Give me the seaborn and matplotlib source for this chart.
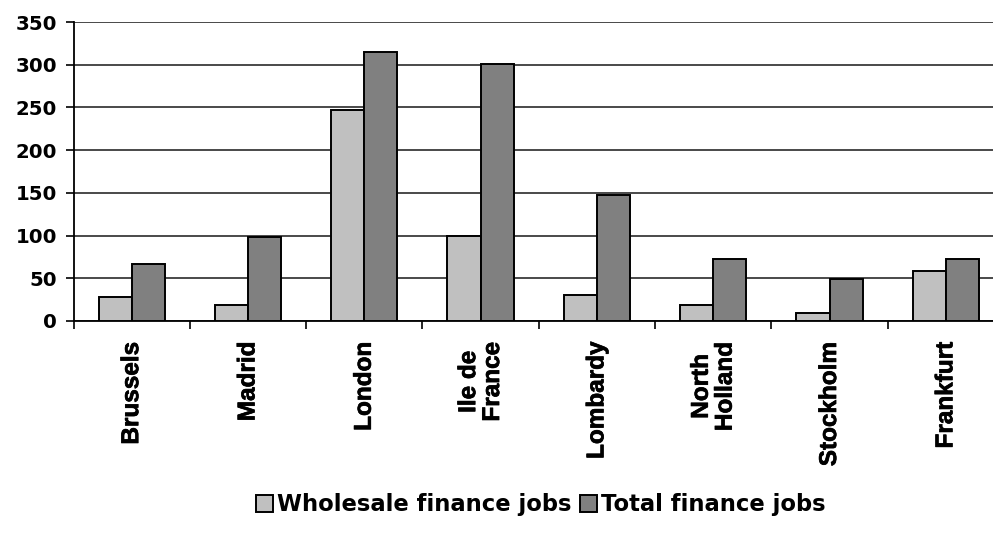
import matplotlib
matplotlib.use("Agg")
import matplotlib.pyplot as plt
import matplotlib.patheffects as pe
import seaborn as sns
import pandas as pd

regions = ["Brussels", "Madrid", "London", "Ile de\nFrance", "Lombardy",
           "North\nHolland", "Stockholm", "Frankfurt"]
wholesale = [28, 19, 247, 100, 30, 19, 9, 58]
total = [67, 98, 315, 301, 147, 72, 49, 72]
series = ["Wholesale finance jobs", "Total finance jobs"]
colors = ["#C0C0C0", "#808080"]

df = pd.DataFrame({
    "region": regions * 2,
    "value": wholesale + total,
    "series": [series[0]] * len(regions) + [series[1]] * len(regions),
})

sns.set_style("white")
plt.rcParams["font.family"] = ["DejaVu Sans"]
plt.rcParams["font.weight"] = "bold"
plt.rcParams["text.color"] = "black"
plt.rcParams["xtick.color"] = "black"
plt.rcParams["ytick.color"] = "black"

fig = plt.figure(figsize=(9.93, 5.40), dpi=100)
ax = fig.add_axes([73.5 / 993, 1 - 321 / 540, 930.5 / 993, 299 / 540])

sns.barplot(data=df, x="region", y="value", hue="series", palette=colors,
            width=0.57, edgecolor="black", linewidth=1.4, ax=ax, zorder=3,
            saturation=1)

ax.set_ylim(0, 350)
ax.set_xlim(-0.5, len(regions) - 0.5)
ax.set_yticks(range(0, 351, 50))
ax.yaxis.grid(True, color="#2a2a2a", linewidth=1.2, zorder=0)
ax.set_axisbelow(True)
for s in ["top", "right"]:
    ax.spines[s].set_visible(False)
for s in ["left", "bottom"]:
    ax.spines[s].set_color("black")
    ax.spines[s].set_linewidth(1.3)

ax.set_xlabel("")
ax.set_ylabel("")
ax.tick_params(axis="y", which="major", left=True, length=6, width=1.2,
               direction="out", labelsize=14.2, pad=6, color="black",
               labelcolor="black")
for lab in ax.get_yticklabels():
    lab.set_fontweight("bold")
    lab.set_family("DejaVu Sans")

# x ticks between categories, labels at centers
ax.set_xticks([i - 0.5 for i in range(len(regions) + 1)], minor=False)
ax.set_xticklabels([])
ax.set_xticks(range(len(regions)), minor=True)
ax.set_xticklabels(regions, minor=True, rotation=90, fontsize=17.5,
                   fontweight="bold", va="top", ha="center",
                   multialignment="center", color="black",
                   family=["Liberation Sans", "DejaVu Sans"],
                   linespacing=1.05)
for lab in ax.get_xticklabels(minor=True):
    lab.set_path_effects([pe.withStroke(linewidth=0.5, foreground="black")])
ax.tick_params(axis="x", which="major", bottom=True, length=6, width=1.2,
               direction="out", color="black")
ax.tick_params(axis="x", which="minor", bottom=False, length=0, pad=15)

leg = ax.get_legend()
if leg is not None:
    leg.remove()
handles, labels = ax.get_legend_handles_labels()
fig.legend(handles, labels, loc="center", bbox_to_anchor=(541 / 993, 1 - 505 / 540),
           ncol=2, frameon=False, handlelength=0.75, handleheight=0.75,
           handletextpad=0.2, columnspacing=0.35,
           prop={"weight": "bold", "size": 16.3, "family": "DejaVu Sans"},
           labelcolor="black")

fig.savefig("out.png", dpi=100)
